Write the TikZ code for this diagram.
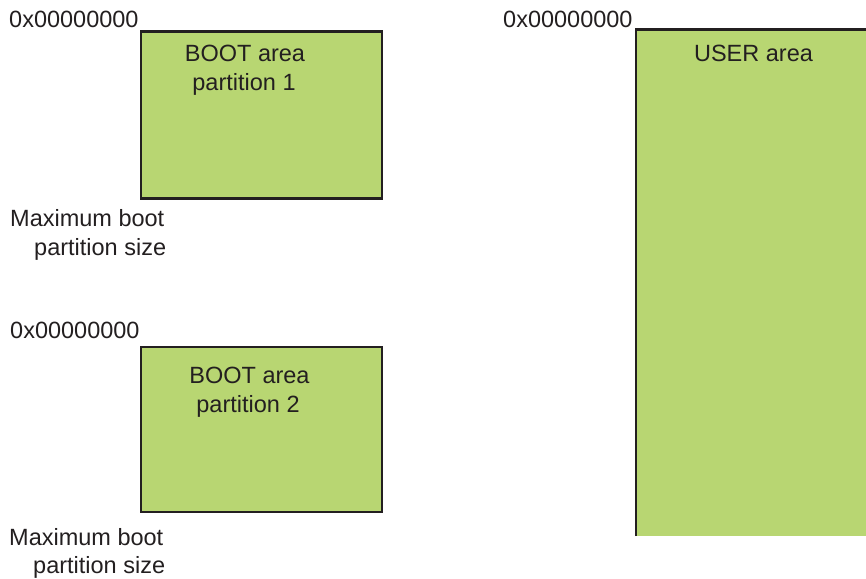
\documentclass[tikz,border=0pt]{standalone}
\usepackage{fontspec}
\setmainfont{Liberation Sans}
\definecolor{areagreen}{HTML}{B8D672}
\definecolor{inkdark}{HTML}{231F20}
\begin{document}
\begin{tikzpicture}[x=1pt,y=-1pt,
  lbl/.style={inner sep=0pt, text=inkdark, font=\fontsize{23.5}{29}\selectfont},
  areabox/.style={rectangle, fill=areagreen, draw=inkdark, line width=2.6pt, inner sep=0pt}]
\useasboundingbox (0,0) rectangle (866,578);
% boot partition 1
\node[areabox, minimum width=241pt, minimum height=167pt] (boot1) at (261.5,115) {};
\node[lbl, anchor=base] (b1a) at (245,61) {BOOT area};
\node[lbl, anchor=base] (b1b) at (244,90) {partition 1};
\node[lbl, anchor=base west] (a1) at (9,28) {0x00000000};
\node[lbl, anchor=base west] (m1a) at (10,226) {Maximum boot};
\node[lbl, anchor=base west] (m1b) at (34,255) {partition size};
% boot partition 2
\node[areabox, minimum width=241pt, minimum height=165pt] (boot2) at (261.5,429.5) {};
\node[lbl, anchor=base] (b2a) at (249.5,383) {BOOT area};
\node[lbl, anchor=base] (b2b) at (248,412) {partition 2};
\node[lbl, anchor=base west] (a2) at (10,338) {0x00000000};
\node[lbl, anchor=base west] (m2a) at (9,545) {Maximum boot};
\node[lbl, anchor=base west] (m2b) at (33,573) {partition size};
% user area
\node[rectangle, fill=areagreen, inner sep=0pt, minimum width=230pt, minimum height=506pt] (user) at (751,283) {};
\draw[inkdark, line width=2.6pt] (user.south west) -- (user.north west) -- (user.north east);
\node[lbl, anchor=base] (ua) at (753.5,62) {USER area};
\node[lbl, anchor=base west] (a3) at (503,28) {0x00000000};
\end{tikzpicture}
\end{document}
